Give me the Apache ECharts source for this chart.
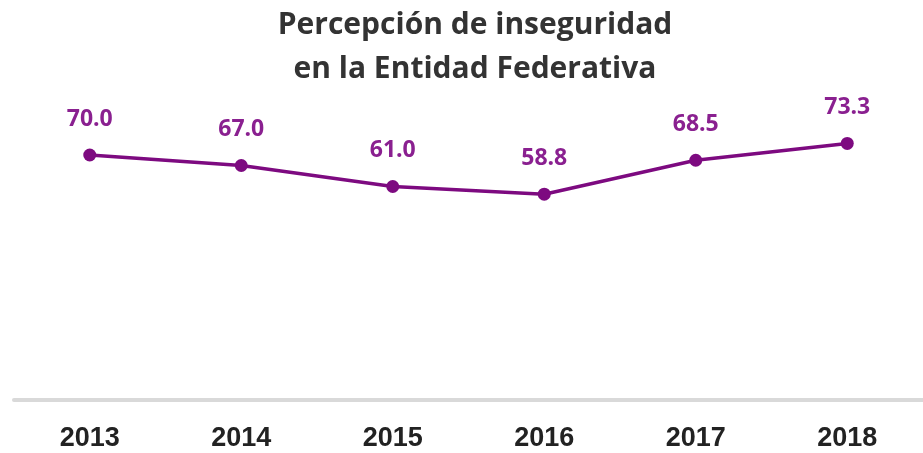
<!DOCTYPE html>
<html>
<head>
<meta charset="utf-8">
<script src="https://cdn.jsdelivr.net/npm/echarts@6/dist/echarts.min.js"></script>
<style>
	html, body { margin: 0; padding: 0; background: #fff; }
	#chart { width: 923px; height: 453px; }
</style>
</head>
<body>
<div id="chart"></div>
<script>
	// años y valores de la serie
	var years = ['2013', '2014', '2015', '2016', '2017', '2018'];
	var percepcion = [70.0, 67.0, 61.0, 58.8, 68.5, 73.3];

	var chart = echarts.init(document.getElementById('chart'));

	var option = {
		backgroundColor: '#fff',
		animation: false,
		title: {
			text: 'Percepción de inseguridad\nen la Entidad Federativa',
			left: 470,
			textAlign: 'center',
			top: -2,
			textStyle: {
				fontFamily: 'Open Sans',
				fontSize: 30,
				fontWeight: 'bold',
				color: '#333',
				lineHeight: 44
			}
		},
		grid: {
			left: 14,
			right: -3,
			top: 120,
			bottom: 53
		},
		xAxis: {
			type: 'category',
			data: years,
			boundaryGap: true,
			axisLine: {
				lineStyle: { color: '#d9d9d9', width: 4 }
			},
			axisTick: { show: false },
			axisLabel: {
				margin: 25,
				fontFamily: 'Liberation Sans',
				fontSize: 27,
				fontWeight: 'bold',
				color: '#222'
			}
		},
		yAxis: {
			type: 'value',
			min: 0,
			max: 80,
			show: false
		},
		series: [{
			type: 'line',
			data: percepcion,
			symbol: 'circle',
			symbolSize: 13,
			lineStyle: { color: '#7d0a80', width: 3.5 },
			itemStyle: { color: '#7d0a80' },
			label: {
				show: true,
				position: 'top',
				distance: 18,
				formatter: function (p) { return p.value.toFixed(1); },
				fontFamily: 'Open Sans',
				fontSize: 23,
				fontWeight: 'bold',
				color: '#8a2090'
			}
		}]
	};
	chart.setOption(option);
</script>
</body>
</html>
